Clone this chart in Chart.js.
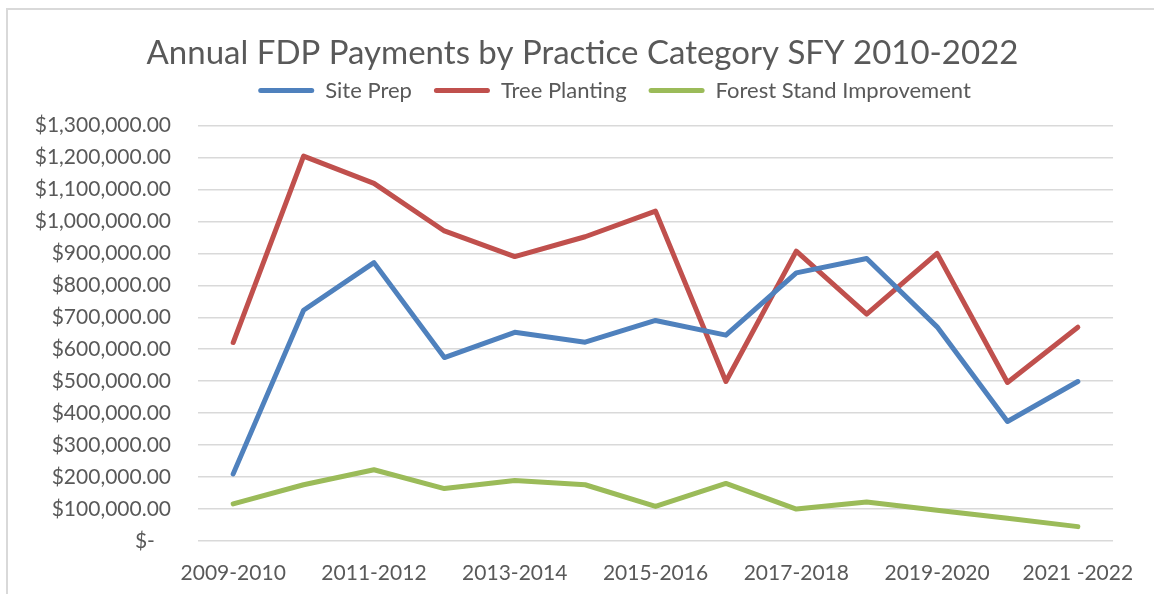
<!DOCTYPE html>
<html>
<head>
<meta charset="utf-8">
<script src="https://cdn.jsdelivr.net/npm/chart.js@4.4.1/dist/chart.umd.min.js"></script>
<style>
  html, body { margin: 0; padding: 0; background: #ffffff; }
  #wrap { position: relative; width: 1154px; height: 594px; overflow: hidden; background: #ffffff; }
  #frame { position: absolute; left: 6px; top: 8px; width: 1300px; height: 700px;
           border-left: 2px solid #D9D9D9; border-top: 2px solid #D9D9D9; pointer-events: none; }
  canvas { position: absolute; left: 0; top: 0; }
</style>
</head>
<body>
<div id="wrap">
  <div id="frame"></div>
  <canvas id="c" width="1154" height="594"></canvas>
</div>
<script>
const categories = ['2009-2010', '2010-2011', '2011-2012', '2012-2013', '2013-2014', '2014-2015',
                    '2015-2016', '2016-2017', '2017-2018', '2018-2019', '2019-2020', '2020-2021', '2021 -2022'];
const sitePrep = [210000, 722000, 871000, 574000, 653000, 622000, 690000, 644000, 839000, 884000, 670000, 374000, 499000];
const treePlanting = [621000, 1204000, 1119000, 970000, 890000, 952000, 1032000, 499000, 907000, 710000, 900000, 496000, 669000];
const forestStandImprovement = [116000, 176000, 223000, 164000, 189000, 176000, 108000, 180000, 100000, 122000, 96000, 71000, 45000];
const seriesNames = ['Site Prep', 'Tree Planting', 'Forest Stand Improvement'];
const seriesColors = ['#4F81BD', '#C0504D', '#9BBB59'];
const yMin = 0, yMax = 1300000, yStep = 100000;
const titleText = 'Annual FDP Payments by Practice Category SFY 2010-2022';

const FONT = 'Lato, "Open Sans", sans-serif';
const TEXT = '#595959';
const LEGEND_CENTER_X = 614.5;

const shiftLegend = {
  id: 'shiftLegend',
  afterLayout(chart) {
    const lg = chart.legend;
    if (!lg) return;
    const dx = LEGEND_CENTER_X - (lg.left + lg.right) / 2;
    lg.left += dx; lg.right += dx;
  }
};

function fmtMoney(v) {
  if (v === 0) return '$-   ';
  return '$' + v.toLocaleString('en-US', {minimumFractionDigits: 2, maximumFractionDigits: 2});
}

const seriesData = [sitePrep, treePlanting, forestStandImprovement];
const datasets = seriesData.map((d, i) => ({
  label: seriesNames[i],
  data: d,
  borderColor: seriesColors[i],
  backgroundColor: seriesColors[i],
  borderWidth: 5,
  borderCapStyle: 'round',
  borderJoinStyle: 'round',
  pointRadius: 0,
  pointHoverRadius: 0,
  tension: 0,
  fill: false
}));

new Chart(document.getElementById('c'), {
  type: 'line',
  data: { labels: categories, datasets },
  plugins: [shiftLegend],
  options: {
    responsive: false,
    animation: false,
    events: [],
    layout: { padding: { left: 33, right: 22, top: 0, bottom: 0 } },
    plugins: {
      title: {
        display: true,
        text: titleText,
        color: TEXT,
        font: { family: FONT, size: 33, weight: '400', lineHeight: 1.2 },
        padding: { top: 34, bottom: -16.1 }
      },
      subtitle: {
        display: true,
        text: '',
        weight: 500,
        font: { size: 14, lineHeight: 1 },
        padding: 0
      },
      legend: {
        display: true,
        position: 'top',
        align: 'center',
        labels: {
          color: TEXT,
          font: { family: FONT, size: 22 },
          boxWidth: 56,
          boxHeight: 5,
          padding: 22,
          generateLabels(chart) {
            return chart.data.datasets.map((ds, i) => ({
              text: ds.label,
              fillStyle: ds.borderColor,
              strokeStyle: ds.borderColor,
              lineWidth: 0,
              borderRadius: 2.5,
              fontColor: TEXT,
              hidden: false,
              datasetIndex: i
            }));
          }
        }
      },
      tooltip: { enabled: false }
    },
    scales: {
      x: {
        offset: true,
        grid: { display: false, drawTicks: false },
        border: { display: false },
        ticks: {
          color: TEXT,
          font: { family: FONT, size: 21 },
          autoSkip: false,
          maxRotation: 0,
          minRotation: 0,
          padding: 20,
          callback: function(value, index) { return index % 2 === 0 ? categories[index] : ''; }
        },
        afterFit(scale) { scale.height = 53; }
      },
      y: {
        min: yMin,
        max: yMax,
        grid: { color: '#D9D9D9', lineWidth: 1.5, drawTicks: false },
        border: { display: false },
        ticks: {
          stepSize: yStep,
          color: TEXT,
          font: { family: FONT, size: 21 },
          padding: 27,
          callback: (v) => fmtMoney(v)
        },
        afterFit(scale) { scale.width = 165; }
      }
    }
  }
});
</script>
</body>
</html>
